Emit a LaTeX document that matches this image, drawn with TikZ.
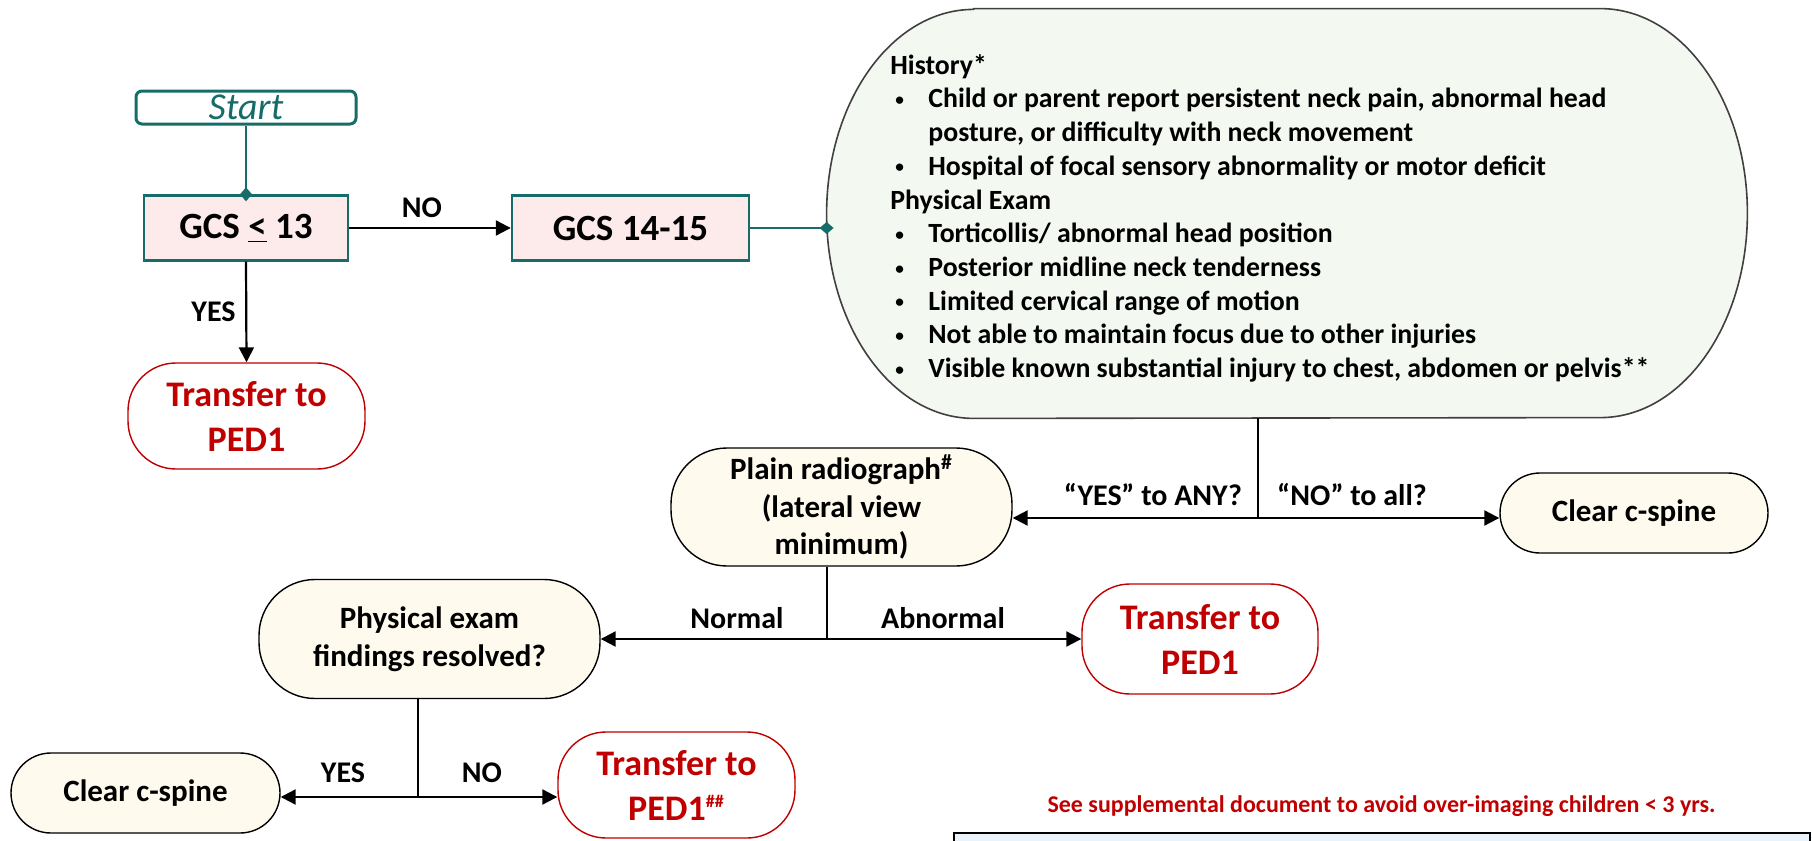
\documentclass[tikz,border=0pt]{standalone}
\usepackage{fontspec}
\setmainfont{Carlito}
\usetikzlibrary{arrows.meta}

\definecolor{tealx}{RGB}{22,108,104}
\definecolor{pinkfill}{RGB}{253,234,234}
\definecolor{greenfill}{RGB}{243,248,241}
\definecolor{creamfill}{RGB}{254,250,237}
\definecolor{redx}{RGB}{192,0,0}
\definecolor{bluefill}{RGB}{234,242,250}

\newcommand{\bul}{\makebox[19pt][l]{\hspace{2.5pt}\raisebox{1.2pt}{\scalebox{0.62}{\textbullet}}}}

\tikzset{
  gcsbox/.style={draw=tealx, fill=pinkfill, line width=1.2pt, minimum height=32.5pt, inner sep=0,
    font=\bfseries\fontsize{18.5}{22}\selectfont},
  creambox/.style={draw=black, fill=creamfill, line width=0.7pt, align=center, inner sep=0,
    font=\bfseries\fontsize{15.5}{18.75}\selectfont},
  xferbox/.style={draw=redx, fill=white, line width=0.7pt, rounded corners=24pt, align=center, inner sep=0,
    minimum width=118.5pt, minimum height=53pt, text=redx, font=\bfseries\fontsize{18}{22.5}\selectfont},
  lbl/.style={anchor=base, inner sep=0, font=\bfseries\fontsize{15}{18}\selectfont},
  link/.style={draw=black, line width=1.1pt},
  tlink/.style={draw=tealx, line width=1.3pt},
  tip/.tip={Triangle[length=7.5pt, width=7.5pt]},
  dtip/.tip={Diamond[length=7pt, width=6pt]}
}

\begin{document}
\begin{tikzpicture}[x=0.5pt, y=-0.5pt]
  \useasboundingbox (0,0) rectangle (1812,841);

  % Nodes
  \node[draw=tealx, line width=1.5pt, rounded corners=3pt, minimum width=110pt, minimum height=16.5pt,
    inner sep=0, text=tealx, font=\itshape\fontsize{19}{21}\selectfont] (start) at (246,107.5) {Start};
  \node[gcsbox, minimum width=102pt] (gcsa) at (246,228) {GCS \underline{<} 13};
  \node[gcsbox, minimum width=118.5pt] (gcsb) at (630.5,228) {GCS 14-15};
  \node[xferbox] (xfer1) at (246.5,416) {Transfer to\\PED1};

  % history / exam box
  \node[minimum width=460pt, minimum height=204.5pt, inner sep=0] (hist) at (1287,213.5) {};
  \draw[draw=black!75, line width=0.8pt, fill=greenfill]
    ([xshift=73.5pt]hist.north west) -- ([xshift=-73.5pt]hist.north east)
    arc[start angle=90, end angle=-90, x radius=73.5pt, y radius=102.25pt]
    -- ([xshift=73.5pt]hist.south west)
    arc[start angle=270, end angle=90, x radius=73.5pt, y radius=102.25pt] -- cycle;
  \node[anchor=north west, inner sep=0, align=left, font=\bfseries\fontsize{13.9}{16.85}\selectfont]
    (histtxt) at (890,54) {History*\\
    \bul Child or parent report persistent neck pain, abnormal head\\
    \hspace*{19pt}posture, or difficulty with neck movement\\
    \bul Hospital of focal sensory abnormality or motor deficit\\
    Physical Exam\\
    \bul Torticollis/ abnormal head position\\
    \bul Posterior midline neck tenderness\\
    \bul Limited cervical range of motion\\
    \bul Not able to maintain focus due to other injuries\\
    \bul Visible known substantial injury to chest, abdomen or pelvis**};

  \node[creambox, rounded corners=28pt, minimum width=170.5pt, minimum height=59pt]
    (radio) at (841.5,507) {Plain radiograph\textsuperscript{\#}\\(lateral view\\minimum)};
  \node[creambox, rounded corners=20pt, minimum width=134pt, minimum height=40pt]
    (clear1) at (1634,513) {Clear c-spine};
  \node[creambox, rounded corners=28pt, minimum width=170.5pt, minimum height=59.5pt]
    (phys) at (429.5,639) {Physical exam\\findings resolved?};
  \node[xferbox, minimum width=118pt, minimum height=55pt] (xfer2) at (1200,639) {Transfer to\\PED1};
  \node[creambox, rounded corners=20pt, minimum width=134.5pt, minimum height=40pt]
    (clear2) at (145.5,793) {Clear c-spine};
  \node[xferbox] (xfer3) at (676.5,785) {Transfer to\\PED1\textsuperscript{\fontsize{9}{9}\selectfont\#\#}};

  \coordinate (j1) at (1258,518);
  \coordinate (j2) at (827,639);
  \coordinate (j3) at (418,797);
  \coordinate (hd) at (hist.west |- gcsb.east);

  % Edges
  \draw[tlink, -dtip] (start.south) -- ([yshift=-3.5pt]gcsa.north);
  \draw[tlink, -dtip] (gcsb.east) -- ([xshift=3.5pt]hd);
  \draw[link, -tip] (gcsa.east) -- (gcsb.west);
  \draw[link, -tip] (gcsa.south) -- (xfer1.north);
  \draw[link] (j1 |- hist.south) -- (j1);
  \draw[link, tip-tip] (radio.east |- j1) -- (clear1.west |- j1);
  \draw[link] (j2 |- radio.south) -- (j2);
  \draw[link, tip-tip] (phys.east) -- (xfer2.west);
  \draw[link] (j3 |- phys.south) -- (j3);
  \draw[link, tip-tip] (clear2.east |- j3) -- (xfer3.west |- j3);

  % Labels
  \node[lbl] (lno1) at (422,217) {NO};
  \node[lbl] (lyes1) at (213.5,321) {YES};
  \node[lbl] (lany) at (1153,505) {“YES” to ANY?};
  \node[lbl] (lall) at (1352,505) {“NO” to all?};
  \node[lbl] (lnorm) at (737,628) {Normal};
  \node[lbl] (labn) at (943,628) {Abnormal};
  \node[lbl] (lyes2) at (343,782) {YES};
  \node[lbl] (lno2) at (482,782) {NO};

  % note
  \node[anchor=base, inner sep=0, text=redx, font=\bfseries\fontsize{12}{14}\selectfont]
    (note) at (1381.5,812) {See supplemental document to avoid over-imaging children < 3 yrs.};
  \draw[draw=black, line width=0.8pt, fill=bluefill] (954,833) rectangle (1810,880);
\end{tikzpicture}
\end{document}
